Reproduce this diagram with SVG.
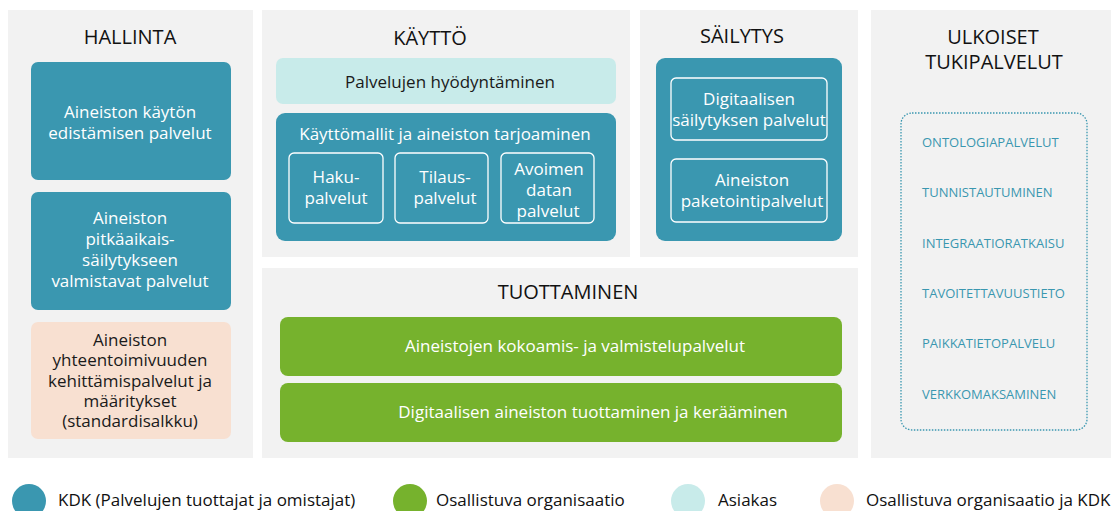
<svg xmlns="http://www.w3.org/2000/svg" width="1113" height="511" viewBox="0 0 1113 511">
<style>
.panel{fill:#F2F2F2}
.teal{fill:#3A97B0}
.lteal{fill:#C8EBEA}
.peach{fill:#F8E0D1}
.green{fill:#76B22D}
.sub{fill:none;stroke:#FFFFFF;stroke-width:1.3}
text{font-family:"Open Sans","Noto Sans","Liberation Sans",sans-serif}
.h{font-size:20px;fill:#111;text-anchor:middle}
.w{font-size:17px;fill:#FFFFFF;text-anchor:middle}
.d{font-size:17px;fill:#1a1a1a;text-anchor:middle}
.c{font-size:13px;fill:#3A97B0}
.lg{font-size:17px;fill:#111}
</style>
<rect width="1113" height="511" fill="#FFFFFF"/>
<g id="hallinta">
<rect class="panel" x="8" y="10" width="245" height="448"/>
<text class="h" x="130" y="44">HALLINTA</text>
<g id="edistamisen">
<rect class="teal" x="31" y="62" width="200" height="118" rx="7"/>
<text class="w" x="130" y="118">Aineiston käytön</text>
<text class="w" x="130" y="139">edistämisen palvelut</text>
</g>
<g id="pitkaaikais">
<rect class="teal" x="31" y="192" width="200" height="118" rx="7"/>
<text class="w" x="130" y="224">Aineiston</text>
<text class="w" x="130" y="245">pitkäaikais-</text>
<text class="w" x="130" y="266">säilytykseen</text>
<text class="w" x="130" y="287">valmistavat palvelut</text>
</g>
<g id="yhteentoimivuus">
<rect class="peach" x="31" y="322" width="200" height="117" rx="7"/>
<text class="d" x="130" y="346">Aineiston</text>
<text class="d" x="130" y="366">yhteentoimivuuden</text>
<text class="d" x="130" y="387">kehittämispalvelut ja</text>
<text class="d" x="130" y="407">määritykset</text>
<text class="d" x="130" y="427">(standardisalkku)</text>
</g>
</g>
<g id="kaytto">
<rect class="panel" x="262" y="10" width="368" height="247"/>
<text class="h" x="430" y="45">KÄYTTÖ</text>
<g id="hyodyntaminen">
<rect class="lteal" x="276" y="58" width="340" height="46" rx="7"/>
<text class="d" x="450" y="88">Palvelujen hyödyntäminen</text>
</g>
<g id="kayttomallit">
<rect class="teal" x="276" y="113" width="340" height="128" rx="9"/>
<text class="w" x="445" y="140">Käyttömallit ja aineiston tarjoaminen</text>
<g id="haku">
<rect class="sub" x="289" y="153" width="94" height="70" rx="5"/>
<text class="w" x="336" y="183">Haku-</text>
<text class="w" x="336" y="204">palvelut</text>
</g>
<g id="tilaus">
<rect class="sub" x="395" y="153" width="93" height="70" rx="5"/>
<text class="w" x="445" y="183">Tilaus-</text>
<text class="w" x="445" y="204">palvelut</text>
</g>
<g id="avoimen">
<rect class="sub" x="501" y="153" width="93" height="70" rx="5"/>
<text class="w" x="549" y="175">Avoimen</text>
<text class="w" x="549" y="196">datan</text>
<text class="w" x="548" y="217">palvelut</text>
</g>
</g>
</g>
<g id="sailytys">
<rect class="panel" x="640" y="10" width="218" height="247"/>
<text class="h" x="742" y="43">SÄILYTYS</text>
<rect class="teal" x="656" y="58" width="186" height="183" rx="9"/>
<g id="digisailytys">
<rect class="sub" x="671" y="78" width="156" height="62" rx="5"/>
<text class="w" x="749" y="105">Digitaalisen</text>
<text class="w" x="749" y="126">säilytyksen palvelut</text>
</g>
<g id="paketointi">
<rect class="sub" x="671" y="159" width="156" height="63" rx="5"/>
<text class="w" x="752" y="186">Aineiston</text>
<text class="w" x="752" y="207">paketointipalvelut</text>
</g>
</g>
<g id="tuottaminen">
<rect class="panel" x="262" y="268" width="596" height="190"/>
<text class="h" x="568" y="299">TUOTTAMINEN</text>
<g id="kokoamis">
<rect class="green" x="280" y="317" width="562" height="59" rx="8"/>
<text class="w" x="575" y="352">Aineistojen kokoamis- ja valmistelupalvelut</text>
</g>
<g id="digituottaminen">
<rect class="green" x="280" y="383" width="562" height="59" rx="8"/>
<text class="w" x="593" y="418">Digitaalisen aineiston tuottaminen ja kerääminen</text>
</g>
</g>
<g id="ulkoiset">
<rect class="panel" x="871" y="10" width="240" height="448"/>
<text class="h" x="993" y="44">ULKOISET</text>
<text class="h" x="994" y="69">TUKIPALVELUT</text>
<rect x="901" y="113" width="186" height="317" rx="11" fill="none" stroke="#3A97B0" stroke-width="1.3" stroke-dasharray="1.5 1.5"/>
<text class="c" x="922" y="147">ONTOLOGIAPALVELUT</text>
<text class="c" x="922" y="197">TUNNISTAUTUMINEN</text>
<text class="c" x="922" y="248">INTEGRAATIORATKAISU</text>
<text class="c" x="922" y="298">TAVOITETTAVUUSTIETO</text>
<text class="c" x="922" y="348">PAIKKATIETOPALVELU</text>
<text class="c" x="922" y="399">VERKKOMAKSAMINEN</text>
</g>
<g id="legend">
<circle class="teal" cx="29" cy="501" r="17"/>
<text class="lg" x="58" y="506">KDK (Palvelujen tuottajat ja omistajat)</text>
<circle class="green" cx="410" cy="501" r="17"/>
<text class="lg" x="436" y="506">Osallistuva organisaatio</text>
<circle class="lteal" cx="688" cy="501" r="17"/>
<text class="lg" x="718" y="506">Asiakas</text>
<circle class="peach" cx="837" cy="501" r="17"/>
<text class="lg" x="866" y="506">Osallistuva organisaatio ja KDK</text>
</g>
<g id="connectors"></g>
</svg>
